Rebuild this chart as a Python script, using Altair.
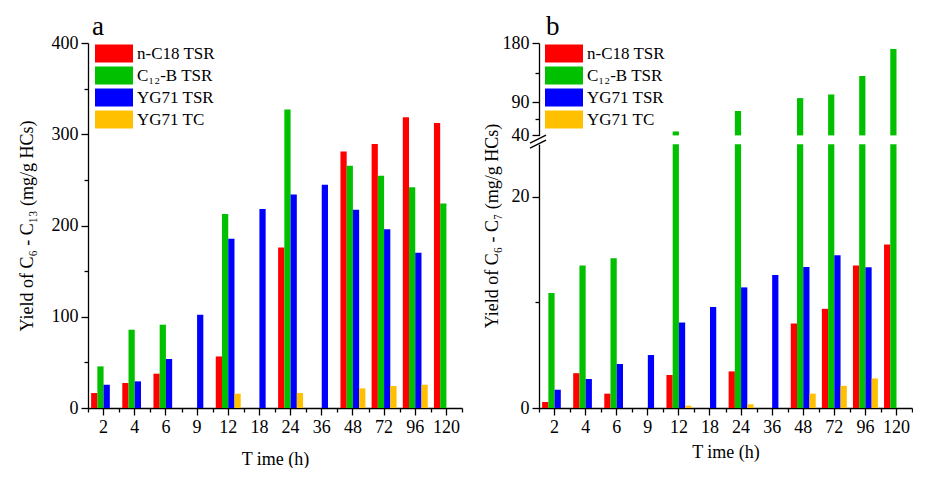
import altair as alt
import pandas as pd

times = ["2", "4", "6", "9", "12", "18", "24", "36", "48", "72", "96", "120"]
series = ["n-C18 TSR", "C₁₂-B TSR", "YG71 TSR", "YG71 TC"]
colors = ["#FF0000", "#00C000", "#0000FF", "#FFC000"]

# Panel a: yield of C6 - C13 (mg/g HCs)
a_nc18 = [16.4, 27.4, 37.6, None, 56.5, None, 176, None, 281, 289.3, 318.5, 312.3]
a_c12b = [45.6, 85.8, 91.3, None, 212.6, None, 327, None, 265.5, 254.6, 242, 224.2]
a_yg71_tsr = [25.5, 29.2, 53.7, 102.2, 185.5, 218, 234, 244.7, 217.3, 196, 170.2, None]
a_yg71_tc = [None, None, None, None, 15.7, None, 16.4, None, 21.5, 24.1, 25.5, None]

# Panel b: yield of C6 - C7 (mg/g HCs)
b_nc18 = [0.57, 3.3, 1.36, None, 3.13, None, 3.47, None, 8.0, 9.4, 13.5, 15.5]
b_c12b = [10.9, 13.5, 14.2, None, 46, None, 77, None, 96.5, 102, 130, 171]
b_yg71_tsr = [1.73, 2.75, 4.17, 5.02, 8.1, 9.57, 11.43, 12.6, 13.36, 14.47, 13.33, None]
b_yg71_tc = [None, None, None, None, 0.22, None, 0.35, None, 1.36, 2.1, 2.8, None]

a_domain = [0, 400]
a_ticks = [0, 100, 200, 300, 400]
a_minor = [50, 150, 250, 350]
b_up_domain = [40, 180]
b_up_ticks = [40, 90, 180]
b_up_minor = [65, 135]
b_low_domain = [0, 25]
b_low_ticks = [0, 20]
b_low_minor = [10]


def long_df(cols):
    rows = []
    for s, arr in zip(series, cols):
        for t, v in zip(times, arr):
            if v is not None:
                rows.append({"time": t, "series": s, "value": v})
    return pd.DataFrame(rows)


dfa = long_df([a_nc18, a_c12b, a_yg71_tsr, a_yg71_tc])
dfb = long_df([b_nc18, b_c12b, b_yg71_tsr, b_yg71_tc])

FONT = "Liberation Serif"
H = 365
UP_H = 92.4
LOW_TOP = 101.2

x_scale = alt.Scale(domain=times, paddingInner=0, paddingOuter=0)
off_scale = alt.Scale(domain=series, paddingInner=0, paddingOuter=0.5)
color_scale = alt.Scale(domain=series, range=colors)


def legend(lx):
    return alt.Legend(
        title=None, orient="none", legendX=lx, legendY=1,
        symbolType="M-1,-0.94H3V0.94H-1Z", symbolSize=361,
        symbolStrokeWidth=0, symbolOpacity=1,
        labelFont=FONT, labelFontSize=17, labelColor="black",
        rowPadding=3, labelOffset=23,
    )


def xoff():
    return alt.XOffset("series:N", scale=off_scale, sort=series)


def color(lx=None):
    if lx is not None:
        return alt.Color("series:N", scale=color_scale, sort=series, legend=legend(lx))
    return alt.Color("series:N", scale=color_scale, sort=series, legend=None)


def title(t, dx):
    return alt.TitleParams(t, anchor="start", frame="group", font=FONT, fontSize=27,
                           fontWeight="normal", color="black", dx=dx, offset=-7)


# ---------- Panel a ----------
def a_scale():
    return alt.Scale(domain=a_domain, range=[H, 0], nice=False, clamp=True)


bars_a = alt.Chart(dfa).mark_bar().encode(
    x=alt.X("time:N", scale=x_scale, sort=times,
            axis=alt.Axis(title="T ime (h)", orient="bottom", labelAngle=0,
                          tickSize=7, titlePadding=14)),
    xOffset=xoff(),
    y=alt.Y("value:Q", scale=a_scale(),
            axis=alt.Axis(values=a_ticks, title="Yield of C₆ - C₁₃ (mg/g HCs)",
                          orient="left", tickSize=7, titleX=-52, titleY=H / 2)),
    y2=alt.datum(a_domain[0]),
    color=color(7),
)
minor_a = alt.Chart(dfa).mark_bar(opacity=0).encode(
    x=alt.X("time:N", scale=x_scale, sort=times,
            axis=alt.Axis(title=None, labels=False, orient="bottom",
                          tickBand="extent", tickSize=4, domain=False)),
    y=alt.Y("value:Q", scale=a_scale(),
            axis=alt.Axis(values=a_minor, labels=False, title=None,
                          orient="left", tickSize=4, domain=False)),
)
panel_a = alt.layer(bars_a, minor_a).resolve_scale(
    y="independent"
).resolve_axis(
    x="independent", y="independent"
).properties(width=374, height=H, title=title("a", 4))

# ---------- Panel b (broken y axis: two scales stacked in one plot) ----------
def up_scale():
    return alt.Scale(domain=b_up_domain, range=[UP_H, 0], nice=False, zero=False, clamp=True)


def low_scale():
    return alt.Scale(domain=b_low_domain, range=[H, LOW_TOP], nice=False, clamp=True)


up_bars = alt.Chart(dfb).transform_filter(
    alt.datum.value > b_up_domain[0]
).mark_bar().encode(
    x=alt.X("time:N", scale=x_scale, sort=times,
            axis=alt.Axis(title="T ime (h)", orient="bottom", labelAngle=0,
                          tickSize=7, titlePadding=7)),
    xOffset=xoff(),
    y=alt.Y("value:Q", scale=up_scale(),
            axis=alt.Axis(values=b_up_ticks, title=None, orient="left", tickSize=7)),
    y2=alt.datum(b_up_domain[0]),
    color=color(6),
)
up_minor = alt.Chart(dfb).mark_bar(opacity=0).encode(
    x=alt.X("time:N", scale=x_scale, sort=times,
            axis=alt.Axis(title=None, labels=False, orient="bottom",
                          tickBand="extent", tickSize=4, domain=False)),
    y=alt.Y("value:Q", scale=up_scale(),
            axis=alt.Axis(values=b_up_minor, labels=False, title=None,
                          orient="left", tickSize=4, domain=False)),
)
low_bars = alt.Chart(dfb).mark_bar().encode(
    x=alt.X("time:N", scale=x_scale, sort=times, axis=None),
    xOffset=xoff(),
    y=alt.Y("value:Q", scale=low_scale(),
            axis=alt.Axis(values=b_low_ticks, title="Yield of C₆ - C₇ (mg/g HCs)",
                          orient="left", tickSize=7, titleX=-38, titleY=H / 2)),
    y2=alt.datum(b_low_domain[0]),
    color=color(),
)
low_minor = alt.Chart(dfb).mark_bar(opacity=0).encode(
    x=alt.X("time:N", scale=x_scale, sort=times, axis=None),
    y=alt.Y("value:Q", scale=low_scale(),
            axis=alt.Axis(values=b_low_minor, labels=False, title=None,
                          orient="left", tickSize=4, domain=False)),
)
one = pd.DataFrame({"k": [0]})
slash1 = alt.Chart(one).mark_rule(color="black", strokeWidth=1.3).encode(
    x=alt.value(-9), x2=alt.value(7), y=alt.value(LOW_TOP - 1), y2=alt.value(LOW_TOP - 9))
slash2 = alt.Chart(one).mark_rule(color="black", strokeWidth=1.3).encode(
    x=alt.value(-9), x2=alt.value(7), y=alt.value(LOW_TOP + 4), y2=alt.value(LOW_TOP - 4))

panel_b = alt.layer(up_bars, up_minor, low_bars, low_minor, slash1, slash2).resolve_scale(
    y="independent"
).resolve_axis(
    x="independent", y="independent"
).properties(width=373, height=H, title=title("b", 7))

chart = alt.hconcat(panel_a, panel_b, spacing=20).resolve_legend(
    color="independent"
).resolve_scale(
    y="independent"
).configure(
    padding={"left": 10, "top": 5, "right": 0, "bottom": 0},
).configure_view(stroke=None).configure_axis(
    domainColor="black", domainWidth=1.3, tickColor="black", tickWidth=1.3,
    labelFont=FONT, labelFontSize=18, labelColor="black", labelPadding=3,
    titleFont=FONT, titleFontSize=18, titleFontWeight="normal", titleColor="black",
    grid=False,
)

chart.save("out.html", embed_options={"renderer": "svg", "actions": False})
